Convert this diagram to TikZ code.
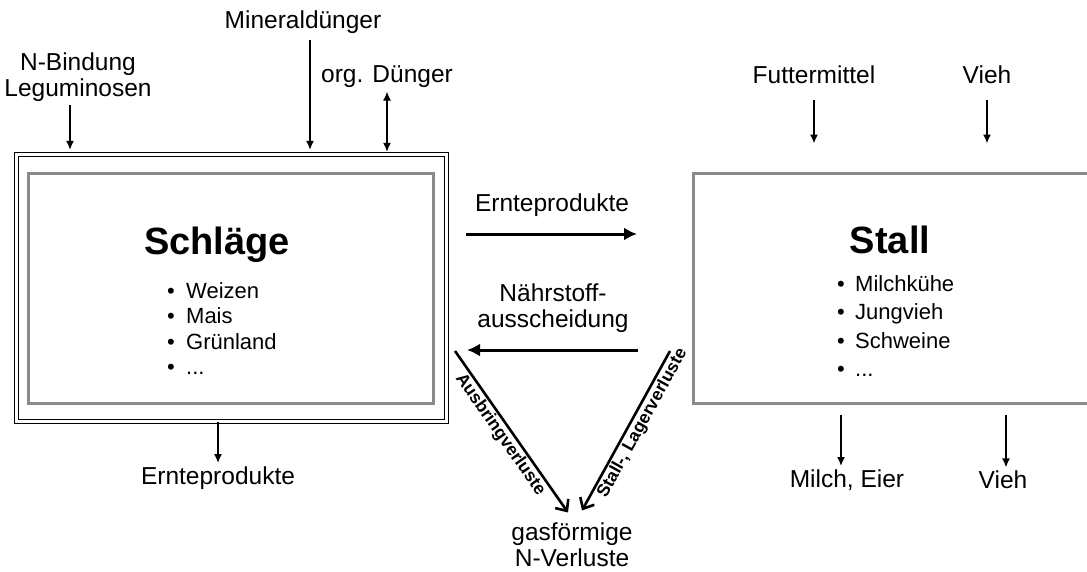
\documentclass[tikz,border=0pt]{standalone}
\usepackage{fontspec}
\setmainfont{Liberation Sans}
\usetikzlibrary{arrows.meta,positioning}
\definecolor{boxgray}{HTML}{8A8A8A}

\begin{document}
\begin{tikzpicture}[x=1pt,y=-1pt,
  lbl/.style={font=\fontsize{24.5}{26}\selectfont,align=center},
  title/.style={font=\fontsize{38}{40}\selectfont\bfseries},
  item/.style={font=\fontsize{22}{24}\selectfont,inner sep=0pt,text height=16pt,text depth=5pt,anchor=north west},
  loss/.style={font=\fontsize{17.5}{19}\selectfont\bfseries,inner sep=1.5pt},
  inarr/.style={-{Latex[length=9pt,width=8pt]},line width=1.6pt},
  dblarr/.style={{Latex[length=9pt,width=8pt]}-{Latex[length=9pt,width=8pt]},line width=1.6pt},
  flowarr/.style={-{Latex[length=13pt,width=13pt]},line width=3pt},
  gasarr/.style={-{Straight Barb[length=9pt,width=16pt]},line width=2.6pt}]
  \useasboundingbox (0,0) rectangle (1087,571);

  % Schlaege box
  \node[draw,double,double distance=3.5pt,line width=1.2pt,minimum width=430pt,minimum height=267pt,inner sep=0pt] (schlaege) at (231.5,288) {};
  \node[draw=boxgray,line width=3pt,minimum width=405pt,minimum height=230pt] (schlaegeinner) at (230.5,288) {};
  \node[title] (schlaegetitle) at (217,245) {Schläge};
  \node[item] (weizen) at (167,282) {\makebox[19pt][l]{\textbullet}Weizen};
  \node[item,below=4pt of weizen.south west,anchor=north west] (mais) {\makebox[19pt][l]{\textbullet}Mais};
  \node[item,below=4pt of mais.south west,anchor=north west] (gruenland) {\makebox[19pt][l]{\textbullet}Grünland};
  \node[item,below=4pt of gruenland.south west,anchor=north west] (schlaegemore) {\makebox[19pt][l]{\textbullet}...};

  % Stall box
  \node[draw=boxgray,line width=3pt,minimum width=400pt,minimum height=230pt] (stall) at (893,288) {};
  \node[title] (stalltitle) at (890,240) {Stall};
  \node[item] (milchkuehe) at (837,275) {\makebox[18pt][l]{\textbullet}Milchkühe};
  \node[item,below=7pt of milchkuehe.south west,anchor=north west] (jungvieh) {\makebox[18pt][l]{\textbullet}Jungvieh};
  \node[item,below=7pt of jungvieh.south west,anchor=north west] (schweine) {\makebox[18pt][l]{\textbullet}Schweine};
  \node[item,below=7pt of schweine.south west,anchor=north west] (stallmore) {\makebox[18pt][l]{\textbullet}...};

  % Labels
  \node[lbl] (leguminosen) at (78,77) {N-Bindung\\Leguminosen};
  \node[lbl] (mineral) at (303,22) {Mineraldünger};
  \node[lbl] (orgduenger) at (387,77) {org. Dünger};
  \node[lbl] (ernteout) at (218,478) {Ernteprodukte};
  \node[lbl] (ernteprod) at (552,205) {Ernteprodukte};
  \node[lbl] (naehrstoff) at (553,308) {Nährstoff-\\ausscheidung};
  \node[lbl] (gas) at (572,545) {gasförmige\\N-Verluste};
  \node[lbl] (futter) at (814,75) {Futtermittel};
  \node[lbl] (viehin) at (987,75) {Vieh};
  \node[lbl] (milch) at (847,480) {Milch, Eier};
  \node[lbl] (viehout) at (1003,480) {Vieh};

  % Arrow ends
  \coordinate (legA) at ([xshift=-8pt]leguminosen.south);
  \coordinate (minA) at ([xshift=7pt]mineral.south);
  \coordinate (milchA) at ([xshift=-6pt]milch.north);
  \coordinate (viehA) at ([xshift=3pt]viehout.north);
  \coordinate (ernteA) at (466,234);
  \coordinate (ernteB) at (637,234);
  \coordinate (naehrA) at (638,350);
  \coordinate (naehrB) at (467,350);
  \coordinate (ausA) at (455,351);
  \coordinate (stallA) at (670,351);

  % Arrows
  \draw[inarr,shorten >=4pt] (legA) -- (legA |- schlaege.north);
  \draw[inarr,shorten <=3pt,shorten >=4pt] (minA) -- (minA |- schlaege.north);
  \draw[dblarr,shorten >=2pt] (orgduenger.south) -- (orgduenger.south |- schlaege.north);
  \draw[inarr] (ernteout.north |- schlaege.south) -- (ernteout.north);
  \draw[flowarr] (ernteA) -- (ernteB);
  \draw[flowarr] (naehrA) -- (naehrB);
  \draw[gasarr] (ausA) -- node[loss,sloped,below,pos=0.48] (ausbring) {Ausbringverluste} ([xshift=-4pt,yshift=7pt]gas.north);
  \draw[gasarr] (stallA) -- node[loss,sloped,below,pos=0.42] (stallverl) {Stall-, Lagerverluste} ([xshift=10pt,yshift=9pt]gas.north);
  \draw[inarr,shorten <=12pt,shorten >=28pt] (futter.south) -- (futter.south |- stall.north);
  \draw[inarr,shorten <=12pt,shorten >=28pt] (viehin.south) -- (viehin.south |- stall.north);
  \draw[inarr,shorten <=10pt] (milchA |- stall.south) -- (milchA);
  \draw[inarr,shorten <=10pt] (viehA |- stall.south) -- (viehA);
\end{tikzpicture}
\end{document}
